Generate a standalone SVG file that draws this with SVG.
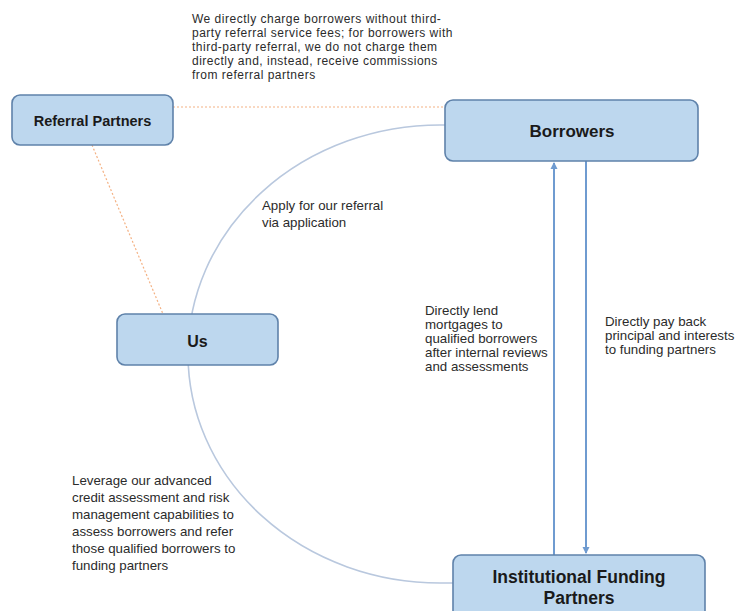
<svg xmlns="http://www.w3.org/2000/svg" width="736" height="611" viewBox="0 0 736 611">
<style>
.box{fill:#bdd7ee;stroke:#5f82aa;stroke-width:1.6}
.lbl{font-family:"Liberation Sans",Arial,sans-serif;font-weight:bold;fill:#1a1a1a;text-anchor:middle}
.note{font-family:"Liberation Sans",Arial,sans-serif;font-size:13.3px;fill:#2b2b2b}
.top{font-family:"Liberation Sans",Arial,sans-serif;font-size:12px;letter-spacing:0.5px;fill:#2b2b2b}
.dot{stroke:#f4b183;stroke-width:1.2;stroke-dasharray:2 2;fill:none}
.arc{stroke:#b9c8de;stroke-width:1.6;fill:none}
.arr{stroke:#6f9bd0;stroke-width:2;fill:none}
</style>
<defs>
<marker id="ah" markerWidth="8" markerHeight="8" refX="6" refY="4" orient="auto" markerUnits="userSpaceOnUse">
<path d="M0,0.5 L7,4 L0,7.5 z" fill="#6f9bd0"/>
</marker>
</defs>
<rect width="736" height="611" fill="#ffffff"/>
<g id="connectors">
<line class="dot" x1="173" y1="107" x2="445" y2="107"/>
<line class="dot" x1="92" y1="145" x2="163" y2="314"/>
<path class="arc" d="M445 125 L440 125 A252 229 0 0 0 440 583 L453 583"/>
<line class="arr" x1="554" y1="555" x2="554" y2="163" marker-end="url(#ah)"/>
<line class="arr" x1="586" y1="161" x2="586" y2="553" marker-end="url(#ah)"/>
</g>
<g id="referral-partners">
<rect class="box" x="12" y="95" width="161" height="50" rx="8"/>
<text class="lbl" x="92.5" y="126" font-size="14.5">Referral Partners</text>
</g>
<g id="borrowers">
<rect class="box" x="445" y="100" width="253" height="61" rx="8"/>
<text class="lbl" x="572" y="137" font-size="17">Borrowers</text>
</g>
<g id="us">
<rect class="box" x="117" y="314" width="161" height="51" rx="8"/>
<text class="lbl" x="197.5" y="347" font-size="16">Us</text>
</g>
<g id="institutional-funding-partners">
<rect class="box" x="453" y="555" width="252" height="70" rx="8"/>
<text class="lbl" x="579" y="583" font-size="17.5">Institutional Funding</text>
<text class="lbl" x="579" y="604" font-size="17.5">Partners</text>
</g>
<g id="labels">
<text class="top" x="192" y="23">We directly charge borrowers without third-</text>
<text class="top" x="192" y="37">party referral service fees; for borrowers with</text>
<text class="top" x="192" y="51">third-party referral, we do not charge them</text>
<text class="top" x="192" y="65">directly and, instead, receive commissions</text>
<text class="top" x="192" y="79">from referral partners</text>
<text class="note" x="262" y="210">Apply for our referral</text>
<text class="note" x="262" y="227">via application</text>
<text class="note" x="425" y="315">Directly lend</text>
<text class="note" x="425" y="329">mortgages to</text>
<text class="note" x="425" y="343">qualified borrowers</text>
<text class="note" x="425" y="357">after internal reviews</text>
<text class="note" x="425" y="371">and assessments</text>
<text class="note" x="605" y="326">Directly pay back</text>
<text class="note" x="605" y="340">principal and interests</text>
<text class="note" x="605" y="354">to funding partners</text>
<text class="note" x="72" y="485">Leverage our advanced</text>
<text class="note" x="72" y="502">credit assessment and risk</text>
<text class="note" x="72" y="519">management capabilities to</text>
<text class="note" x="72" y="536">assess borrowers and refer</text>
<text class="note" x="72" y="553">those qualified borrowers to</text>
<text class="note" x="72" y="570">funding partners</text>
</g>
</svg>
